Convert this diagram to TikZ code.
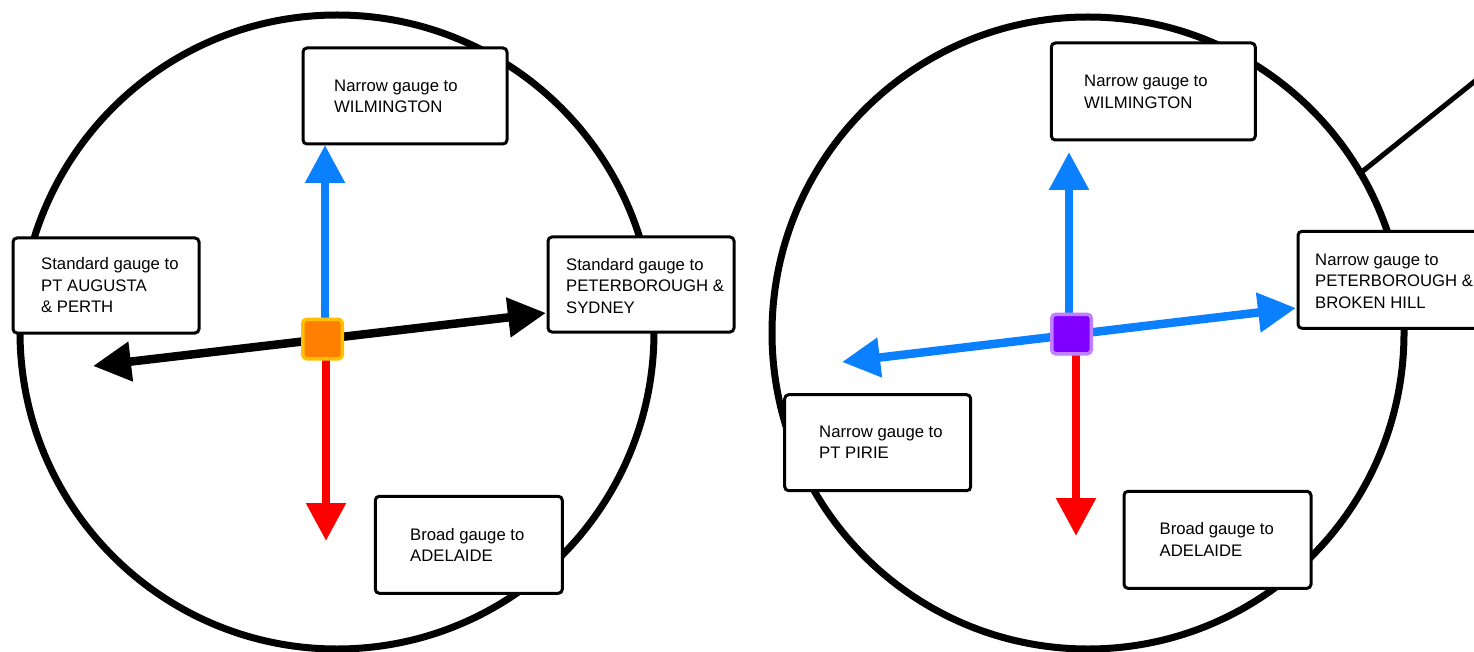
\documentclass[tikz,border=0pt]{standalone}
\usepackage{fontspec}
\setmainfont{Liberation Sans}
\usetikzlibrary{arrows.meta}

\definecolor{gaugeblue}{RGB}{10,128,255}
\definecolor{gaugered}{RGB}{255,0,0}
\definecolor{hubfillA}{RGB}{255,128,0}
\definecolor{hubedgeA}{RGB}{255,192,0}
\definecolor{hubfillB}{RGB}{128,0,255}
\definecolor{hubedgeB}{RGB}{192,128,255}

\tikzset{
  ring/.style={draw=black, line width=7pt},
  spur/.style={draw=black, line width=5pt},
  gaugearrow/.style={line width=8.5pt, -{Triangle[length=38pt,width=38pt]}},
  gaugearrows/.style={line width=8.5pt, {Triangle[length=38pt,width=38pt]}-{Triangle[length=38pt,width=38pt]}},
  labelbox/.style={draw=black, fill=white, line width=3pt, rounded corners=4pt,
    inner sep=0pt, anchor=north west},
  % anchored at the baseline of the last line
  labeltext/.style={anchor=base west, align=left, inner sep=0pt,
    font=\fontsize{16.7}{21.5}\selectfont},
  hub/.style={line width=3.5pt, rounded corners=4pt, minimum size=39.5pt, inner sep=0pt},
}

\begin{document}
\begin{tikzpicture}[x=1pt, y=-1pt]
\useasboundingbox (0,0) rectangle (1474,652);
\clip (0,0) rectangle (1474,652);

% ---------------- left junction: standard gauge through line ----------------
\coordinate (hubA) at (322.5,339);
\draw[ring] (337,332) circle[radius=317];

\coordinate (stdW) at (93,366);
\coordinate (stdE) at (546,313);
\coordinate (narA0) at (325,339);
\coordinate (narA1) at (325,145);
\coordinate (brdA0) at (326,339);
\coordinate (brdA1) at (326,541);

\draw[gaugearrows, black] (stdW) -- (stdE);
\draw[gaugearrow, gaugeblue] (narA0) -- (narA1);
\draw[gaugearrow, gaugered] (brdA0) -- (brdA1);

\node[labelbox, minimum width=204pt, minimum height=96pt] (wilA) at (301.5,46.5) {};
\node[labelbox, minimum width=186pt, minimum height=95pt] (pertA) at (11.5,236.5) {};
\node[labelbox, minimum width=186pt, minimum height=95pt] (sydA) at (546.5,235.5) {};
\node[labelbox, minimum width=187pt, minimum height=97pt] (adlA) at (373.8,494.8) {};

\node[labeltext] (wilAt) at (334,113) {Narrow gauge to\\WILMINGTON};
\node[labeltext] (pertAt) at (41,312.7) {Standard gauge to\\PT AUGUSTA\\\& PERTH};
\node[labeltext] (sydAt) at (566,313.3) {Standard gauge to\\PETERBOROUGH \&\\SYDNEY};
\node[labeltext] (adlAt) at (410,561.5) {Broad gauge to\\ADELAIDE};

\node[hub, draw=hubedgeA, fill=hubfillA] (hubAsq) at (hubA) {};

% ---------------- right junction: narrow gauge through line ----------------
\coordinate (hubB) at (1071.5,334);
\draw[ring] (1088,333) circle[radius=316];
\coordinate (spurJ) at (1358,175);
\coordinate (spurE) at (1500,61);
\draw[spur] (spurJ) -- (spurE);

\coordinate (narW) at (842,362);
\coordinate (narE) at (1296,308);
\coordinate (narB0) at (1069,334);
\coordinate (narB1) at (1069,152);
\coordinate (brdB0) at (1076,334);
\coordinate (brdB1) at (1076,536);

\draw[gaugearrows, gaugeblue] (narW) -- (narE);
\draw[gaugearrow, gaugeblue] (narB0) -- (narB1);
\draw[gaugearrow, gaugered] (brdB0) -- (brdB1);

\node[labelbox, minimum width=204pt, minimum height=97pt] (wilB) at (1049.8,41.5) {};
\node[labelbox, minimum width=200pt, minimum height=97pt] (bhB) at (1296.5,229.8) {};
\node[labelbox, minimum width=186pt, minimum height=96pt] (pirB) at (783.2,393.2) {};
\node[labelbox, minimum width=187pt, minimum height=97pt] (adlB) at (1122.5,489.8) {};

\node[labeltext] (wilBt) at (1084,108.5) {Narrow gauge to\\WILMINGTON};
\node[labeltext] (bhBt) at (1315,308.3) {Narrow gauge to\\PETERBOROUGH \&\\BROKEN HILL};
\node[labeltext] (pirBt) at (819,458.5) {Narrow gauge to\\PT PIRIE};
\node[labeltext] (adlBt) at (1159.5,556.3) {Broad gauge to\\ADELAIDE};

\node[hub, draw=hubedgeB, fill=hubfillB] (hubBsq) at (hubB) {};
\end{tikzpicture}
\end{document}
